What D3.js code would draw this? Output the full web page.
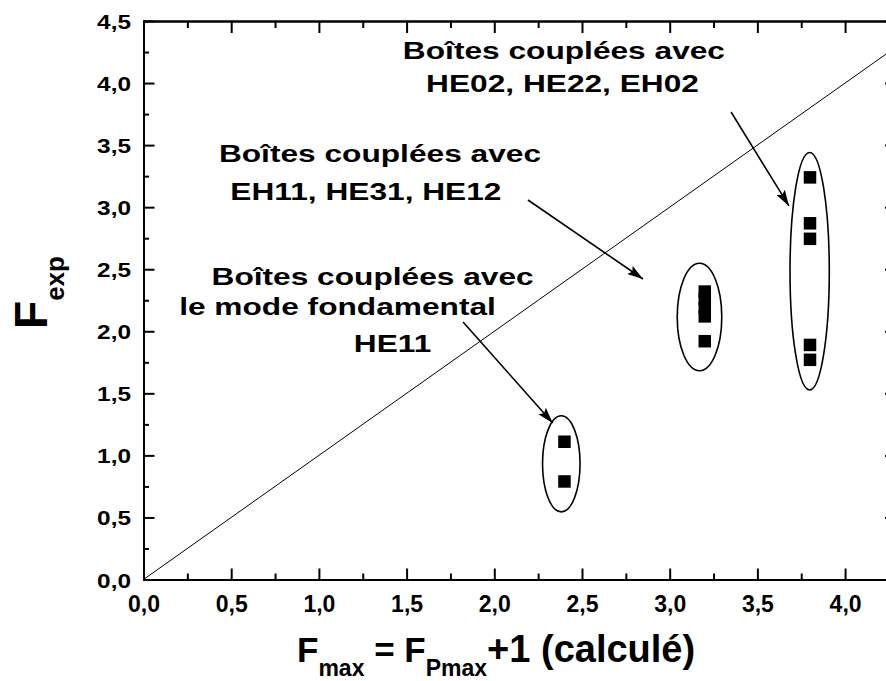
<!DOCTYPE html>
<html>
<head>
<meta charset="utf-8">
<script src="https://cdnjs.cloudflare.com/ajax/libs/d3/7.8.5/d3.min.js"></script>
<style>
  body { margin: 0; background: #fff; }
  svg { display: block; font-family: "Liberation Sans", Arial, sans-serif; font-weight: bold; }
</style>
</head>
<body>
<svg id="chart" width="886" height="681"></svg>
<script>
// calculated F_max of each group of boxes
const groupX = [2.4, 3.2, 3.8];
// measured F_exp per group
const fexpHE11 = [1.11, 0.79];
const fexpEH11 = [2.32, 2.26, 2.19, 2.12, 1.92];
const fexpHE02 = [3.24, 2.87, 2.745, 1.89, 1.77];

const xTicks = [0, 0.5, 1, 1.5, 2, 2.5, 3, 3.5, 4];
const yTicks = [0, 0.5, 1, 1.5, 2, 2.5, 3, 3.5, 4, 4.5];

// ellipses drawn round each group: cx, cy, rx, ry (data units)
const groupEllipses = [
    [2.382, 0.932, 0.107, 0.387],
    [3.170, 2.115, 0.127, 0.433],
    [3.798, 2.484, 0.112, 0.957]
];

// arrows from labels to groups: x1, y1, x2, y2 (data units)
const arrows = [
    [1.822, 2.075, 2.333, 1.261],
    [2.192, 3.058, 2.848, 2.421],
    [3.350, 3.767, 3.680, 3.010]
];

// label lines: text, x centre, baseline y (data units)
const noteLines = [
    ["Boîtes couplées avec", 2.397, 4.19],
    ["HE02, HE22, EH02", 2.389, 3.93],
    ["Boîtes couplées avec", 1.348, 3.364],
    ["EH11, HE31, HE12", 1.268, 3.058],
    ["Boîtes couplées avec", 1.306, 2.373],
    ["le mode fondamental", 1.106, 2.131],
    ["HE11", 1.42, 1.833]
];

const points = [];
[fexpHE11, fexpEH11, fexpHE02].forEach((ys, i) => {
    ys.forEach(v => points.push([groupX[i], v]));
});

const svg = d3.select("#chart");
const plotLeft = 143.5, plotRight = 897, plotTop = 21, plotBottom = 579.5;

const x = d3.scaleLinear().domain([0, 4.296]).range([plotLeft, plotRight]);
const y = d3.scaleLinear().domain([0, 4.5]).range([plotBottom, plotTop]);

const fmt = d => d3.format(".1f")(d).replace(".", ",");
const minorX = d3.range(0.25, 4.3, 0.5);
const minorY = d3.range(0.25, 4.5, 0.5);

svg.append("clipPath").attr("id", "plot")
    .append("rect")
    .attr("x", plotLeft).attr("y", plotTop)
    .attr("width", plotRight - plotLeft).attr("height", plotBottom - plotTop);

// y = x reference line
svg.append("line")
    .attr("clip-path", "url(#plot)")
    .attr("x1", x(0)).attr("y1", y(0))
    .attr("x2", x(4.5)).attr("y2", y(4.5))
    .attr("stroke", "#000")
    .attr("stroke-width", 1);

// axes, ticks pointing inward
function styleAxis(g) {
    g.select(".domain").attr("stroke-width", 2);
    g.selectAll(".tick line").attr("stroke-width", 2);
}

svg.append("g").attr("transform", `translate(0,${plotBottom})`)
    .call(d3.axisBottom(x).tickValues(minorX).tickSize(-6).tickFormat(""))
    .call(styleAxis);
const xAxis = svg.append("g").attr("transform", `translate(0,${plotBottom})`)
    .call(d3.axisBottom(x).tickValues(xTicks).tickSize(-11).tickSizeOuter(0).tickFormat(fmt))
    .call(styleAxis);
xAxis.selectAll(".tick text")
    .attr("font-size", 23)
    .attr("dy", null).attr("y", 32)
    .attr("fill", "#000");

svg.append("g").attr("transform", `translate(0,${plotTop})`)
    .call(d3.axisTop(x).tickValues(minorX).tickSize(-7).tickFormat(""))
    .call(styleAxis);
svg.append("g").attr("transform", `translate(0,${plotTop})`)
    .call(d3.axisTop(x).tickValues(xTicks).tickSize(-12).tickSizeOuter(0).tickFormat(""))
    .call(styleAxis);

svg.append("g").attr("transform", `translate(${plotLeft},0)`)
    .call(d3.axisLeft(y).tickValues(minorY).tickSize(-5.5).tickFormat(""))
    .call(styleAxis);
const yAxis = svg.append("g").attr("transform", `translate(${plotLeft},0)`)
    .call(d3.axisLeft(y).tickValues(yTicks).tickSize(-11).tickSizeOuter(0).tickFormat(fmt))
    .call(styleAxis);
yAxis.selectAll(".tick text")
    .attr("font-size", 20)
    .attr("x", 0).attr("dy", null).attr("y", 0)
    .attr("transform", "translate(-12.5,7.5) scale(1.22,1)")
    .attr("fill", "#000");

svg.append("g").attr("transform", `translate(${plotRight},0)`)
    .call(d3.axisRight(y).tickValues(minorY).tickSize(-5.5).tickFormat(""))
    .call(styleAxis);
svg.append("g").attr("transform", `translate(${plotRight},0)`)
    .call(d3.axisRight(y).tickValues(yTicks).tickSize(-12).tickSizeOuter(0).tickFormat(""))
    .call(styleAxis);

svg.selectAll(".tick text").attr("font-family", null).attr("font-weight", "bold");
svg.selectAll("g").attr("font-family", null);

// group ellipses
svg.selectAll(".group-ellipse")
    .data(groupEllipses)
    .join("ellipse")
    .attr("class", "group-ellipse")
    .attr("cx", d => x(d[0]))
    .attr("cy", d => y(d[1]))
    .attr("rx", d => x(d[2]) - x(0))
    .attr("ry", d => y(0) - y(d[3]))
    .attr("fill", "none")
    .attr("stroke", "#000")
    .attr("stroke-width", 1.6);

// data squares
const sq = 12.5;
svg.selectAll(".pt")
    .data(points)
    .join("rect")
    .attr("class", "pt")
    .attr("x", d => x(d[0]) - sq / 2)
    .attr("y", d => y(d[1]) - sq / 2)
    .attr("width", sq)
    .attr("height", sq)
    .attr("fill", "#000");

// arrows
svg.append("defs").append("marker")
    .attr("id", "head")
    .attr("markerUnits", "userSpaceOnUse")
    .attr("viewBox", "0 0 16 10")
    .attr("refX", 16).attr("refY", 5)
    .attr("markerWidth", 16).attr("markerHeight", 10)
    .attr("orient", "auto")
    .append("path")
    .attr("d", "M0,0L16,5L0,10L3,5Z")
    .attr("fill", "#000");

svg.selectAll(".arrow")
    .data(arrows)
    .join("line")
    .attr("class", "arrow")
    .attr("x1", d => x(d[0])).attr("y1", d => y(d[1]))
    .attr("x2", d => x(d[2])).attr("y2", d => y(d[3]))
    .attr("stroke", "#000")
    .attr("stroke-width", 1.6)
    .attr("marker-end", "url(#head)");

// annotation text
svg.selectAll(".note")
    .data(noteLines)
    .join("text")
    .attr("class", "note")
    .attr("transform", d => `translate(${x(d[1])},${y(d[2])}) scale(1.32,1)`)
    .attr("text-anchor", "middle")
    .attr("font-size", 24)
    .text(d => d[0]);

// axis titles
const yTitle = svg.append("text")
    .attr("transform", "translate(46.7,292.5) rotate(-90)")
    .attr("text-anchor", "middle")
    .attr("font-size", 46);
yTitle.append("tspan").text("F");
yTitle.append("tspan").attr("font-size", 26).attr("dy", 17).text("exp");

const xTitle = svg.append("text")
    .attr("x", 297).attr("y", 661.7)
    .attr("font-size", 35);
xTitle.append("tspan").text("F");
xTitle.append("tspan").attr("font-size", 23).attr("dy", 14).text("max");
xTitle.append("tspan").attr("dy", -14).text(" = F");
xTitle.append("tspan").attr("font-size", 23).attr("dy", 14).text("Pmax");
xTitle.append("tspan").attr("dy", -14).attr("font-size", 38).text("+1 (calculé)");
</script>
</body>
</html>
